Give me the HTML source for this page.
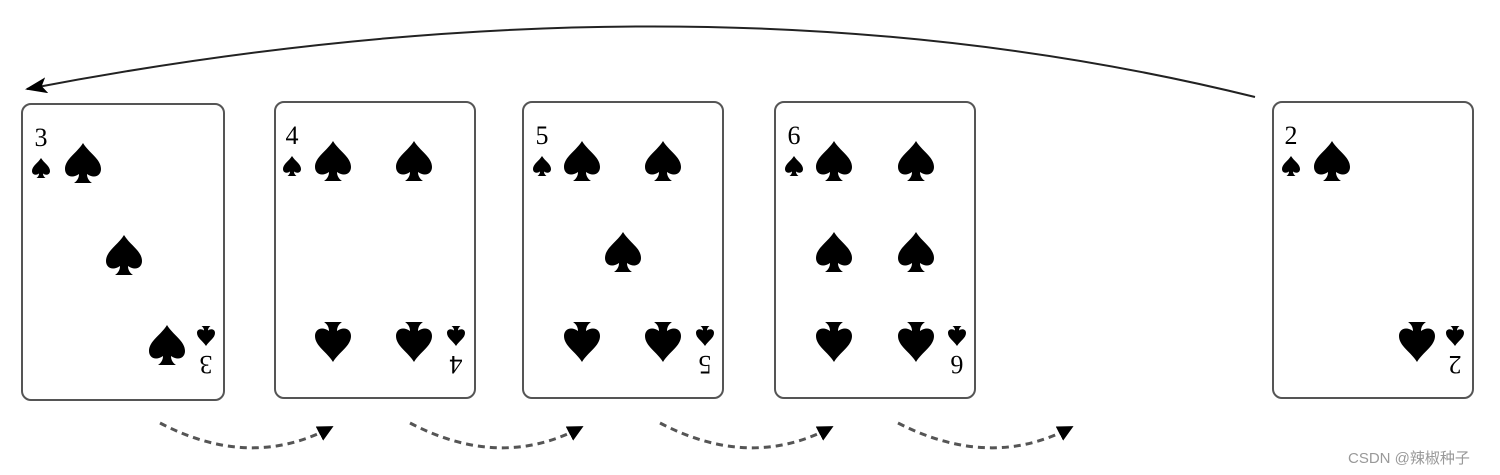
<!DOCTYPE html>
<html><head><meta charset="utf-8"><style>
html,body{margin:0;padding:0;background:#fff;width:1500px;height:475px;overflow:hidden}
</style></head><body>
<svg width="1500" height="475" viewBox="0 0 1500 475" xmlns="http://www.w3.org/2000/svg" font-family="Liberation Serif, serif">
<defs>
<path id="sp" d="M0,-20 C-6,-10 -18,-4 -18,6 C-18,13 -11,16 -4,11 C-4,15 -6,18 -9,20 L9,20 C6,18 4,15 4,11 C11,16 18,13 18,6 C18,-4 6,-10 0,-20Z" fill="#000"/>
<marker id="ah" markerWidth="22" markerHeight="16" refX="20" refY="8" orient="auto" markerUnits="userSpaceOnUse"><path d="M0,0 L22,8 L0,16 L5,8Z" fill="#000"/></marker>
<marker id="ah2" markerWidth="16" markerHeight="16" refX="12" refY="8" orient="auto" markerUnits="userSpaceOnUse"><path d="M0,0 L16,8 L0,16Z" fill="#000"/></marker>
</defs>
<g fill="none" stroke="#555" stroke-width="2">
<rect x="22" y="104" width="202" height="296" rx="9"/>
<rect x="275" y="102" width="200" height="296" rx="9"/>
<rect x="523" y="102" width="200" height="296" rx="9"/>
<rect x="775" y="102" width="200" height="296" rx="9"/>
<rect x="1273" y="102" width="200" height="296" rx="9"/>
</g>
<!-- card 1 -->
<text x="41" y="146" font-size="26" text-anchor="middle">3</text>
<use href="#sp" transform="translate(41,168) scale(0.5)"/>
<use href="#sp" transform="translate(83,163)"/>
<use href="#sp" transform="translate(124,255)"/>
<use href="#sp" transform="translate(167,345)"/>
<use href="#sp" transform="translate(206,336) scale(0.5) rotate(180)"/>
<text transform="translate(206,356) rotate(180)" font-size="26" text-anchor="middle">3</text>
<!-- card 2 -->
<text x="292" y="144" font-size="26" text-anchor="middle">4</text>
<use href="#sp" transform="translate(292,166) scale(0.5)"/>
<use href="#sp" transform="translate(333,161)"/>
<use href="#sp" transform="translate(414,161)"/>
<use href="#sp" transform="translate(333,342) rotate(180)"/>
<use href="#sp" transform="translate(414,342) rotate(180)"/>
<use href="#sp" transform="translate(456,336) scale(0.5) rotate(180)"/>
<text transform="translate(456,356) rotate(180)" font-size="26" text-anchor="middle">4</text>
<!-- card 3 -->
<text x="542" y="144" font-size="26" text-anchor="middle">5</text>
<use href="#sp" transform="translate(542,166) scale(0.5)"/>
<use href="#sp" transform="translate(582,161)"/>
<use href="#sp" transform="translate(663,161)"/>
<use href="#sp" transform="translate(623,252)"/>
<use href="#sp" transform="translate(582,342) rotate(180)"/>
<use href="#sp" transform="translate(663,342) rotate(180)"/>
<use href="#sp" transform="translate(705,336) scale(0.5) rotate(180)"/>
<text transform="translate(705,356) rotate(180)" font-size="26" text-anchor="middle">5</text>
<!-- card 4 -->
<text x="794" y="144" font-size="26" text-anchor="middle">6</text>
<use href="#sp" transform="translate(794,166) scale(0.5)"/>
<use href="#sp" transform="translate(834,161)"/>
<use href="#sp" transform="translate(916,161)"/>
<use href="#sp" transform="translate(834,252)"/>
<use href="#sp" transform="translate(916,252)"/>
<use href="#sp" transform="translate(834,342) rotate(180)"/>
<use href="#sp" transform="translate(916,342) rotate(180)"/>
<use href="#sp" transform="translate(957,336) scale(0.5) rotate(180)"/>
<text transform="translate(957,356) rotate(180)" font-size="26" text-anchor="middle">6</text>
<!-- card 5 -->
<text x="1291" y="144" font-size="26" text-anchor="middle">2</text>
<use href="#sp" transform="translate(1291,166) scale(0.5)"/>
<use href="#sp" transform="translate(1332,161)"/>
<use href="#sp" transform="translate(1417,342) rotate(180)"/>
<use href="#sp" transform="translate(1455,336) scale(0.5) rotate(180)"/>
<text transform="translate(1455,356) rotate(180)" font-size="26" text-anchor="middle">2</text>
<!-- main arrow -->
<path d="M1255,97 Q700,-40 27,89" fill="none" stroke="#222" stroke-width="2" marker-end="url(#ah)"/>
<!-- dashed arrows -->
<g fill="none" stroke="#555" stroke-width="3" stroke-dasharray="7,5" marker-end="url(#ah2)">
<path d="M160,423 Q250,470 330,428"/>
<path d="M410,423 Q500,470 580,428"/>
<path d="M660,423 Q750,470 830,428"/>
<path d="M898,423 Q990,470 1070,428"/>
</g>
<text x="1348" y="463" font-size="15" fill="#999" font-family="Liberation Sans, Noto Sans CJK SC, sans-serif">CSDN @辣椒种子</text>
</svg>
</body></html>
